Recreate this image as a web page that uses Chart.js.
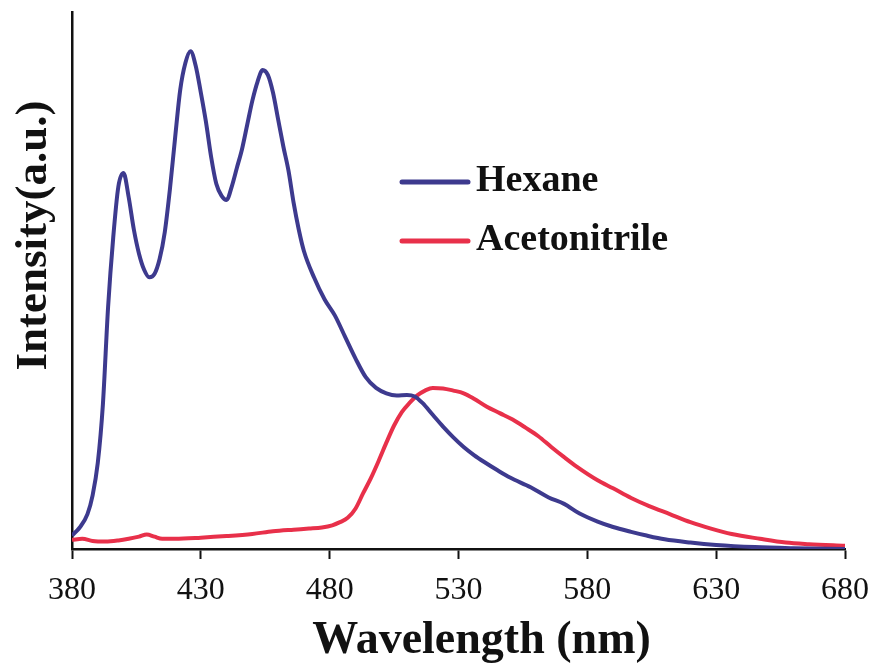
<!DOCTYPE html>
<html>
<head>
<meta charset="utf-8">
<script src="https://cdn.jsdelivr.net/npm/chart.js@4.4.1/dist/chart.umd.min.js"></script>
<style>
    body { margin: 0; background: #fff; }
    #wrap { width: 876px; height: 669px; }
</style>
</head>
<body>
<div id="wrap"><canvas id="spectra" width="876" height="669"></canvas></div>
<script>
// Emission spectra (intensity in arbitrary units, 0-100)
const hexaneNm = [380, 383, 386, 388, 390, 392, 394, 396, 398, 400, 402, 404, 406, 408, 410, 412, 414, 416, 418, 420,
    422, 424, 426, 428, 430, 432, 434, 436, 438, 440, 442, 444, 446, 448, 450, 452, 454, 456, 458, 460,
    462, 464, 466, 468, 470, 474, 478, 482, 486, 490, 494, 498, 502, 506, 510, 513, 516, 520, 524, 528,
    532, 536, 540, 545, 550, 558, 565, 571, 577, 584, 590, 597, 603, 610, 620, 630, 645, 660, 680];
const hexaneVals = [2.5, 4, 6.5, 10, 16, 27, 45, 58, 67.5, 70, 65.5, 59.5, 55, 52, 50.6, 51.2, 54, 59, 67, 76.5,
    85.5, 90.5, 92.7, 90, 85, 79.5, 73, 68, 65.8, 65, 67.5, 71, 74.5, 79, 83.5, 87, 89.2, 88.3, 85, 80,
    75, 70.5, 64.5, 59.5, 55.5, 50.5, 46.5, 43.5, 39.5, 35.5, 32, 30, 29, 28.6, 28.7, 28.4, 27.2, 25, 22.8, 20.8,
    19, 17.5, 16.2, 14.7, 13.3, 11.5, 9.6, 8.4, 6.6, 5.1, 4.1, 3.2, 2.5, 1.8, 1.2, 0.75, 0.35, 0.15, 0];

const acnNm = [380, 384, 388, 393, 398, 402, 406, 409, 412, 415, 420, 430, 440, 450, 458, 466, 472, 477, 481, 484,
    487, 490, 493, 496, 499, 502, 505, 508, 511, 514, 517, 520, 524, 528, 532, 536, 541, 546, 551, 556,
    561, 566, 571, 576, 584, 590, 597, 604, 612, 620, 628, 636, 647, 657, 666, 680];
const acnVals = [1.7, 1.9, 1.5, 1.4, 1.6, 1.9, 2.3, 2.7, 2.3, 1.9, 1.9, 2.1, 2.4, 2.8, 3.3, 3.6, 3.8, 4.0, 4.4, 5.0,
    5.8, 7.5, 10.4, 13.2, 16.4, 19.8, 23, 25.5, 27.2, 28.6, 29.5, 30, 29.9, 29.5, 29, 28, 26.5, 25.3, 24.1, 22.6,
    21, 19, 17.1, 15.3, 12.8, 11.3, 9.5, 8.0, 6.5, 5.0, 3.8, 2.8, 1.9, 1.2, 0.9, 0.6];

const seriesNames = ['Hexane', 'Acetonitrile'];
const seriesColors = ['#3d3a8e', '#e8304a'];
const xTicks = [380, 430, 480, 530, 580, 630, 680];

const serif = "'Liberation Serif', 'Times New Roman', serif";

function toPoints(xs, ys) {
    return xs.map((x, i) => ({ x: x, y: ys[i] }));
}

// Legend sits inside the plot, drawn by hand like the original figure
const insideLegend = {
    id: 'insideLegend',
    afterDraw(chart) {
        const ctx = chart.ctx;
        const rows = [182, 241];
        ctx.save();
        chart.data.datasets.forEach((ds, i) => {
            const y = rows[i];
            ctx.strokeStyle = ds.borderColor;
            ctx.lineWidth = 5;
            ctx.lineCap = 'round';
            ctx.beginPath();
            ctx.moveTo(402, y);
            ctx.lineTo(468, y);
            ctx.stroke();
            ctx.fillStyle = '#111';
            ctx.font = 'bold 38px ' + serif;
            ctx.textBaseline = 'alphabetic';
            ctx.fillText(ds.label, 476, y + 9);
        });
        ctx.restore();
    }
};

const ctx = document.getElementById('spectra').getContext('2d');
new Chart(ctx, {
    type: 'line',
    data: {
        datasets: [
            {
                label: seriesNames[0],
                data: toPoints(hexaneNm, hexaneVals),
                borderColor: seriesColors[0],
                borderWidth: 4,
                pointRadius: 0,
                cubicInterpolationMode: 'monotone'
            },
            {
                label: seriesNames[1],
                data: toPoints(acnNm, acnVals),
                borderColor: seriesColors[1],
                borderWidth: 4,
                pointRadius: 0,
                cubicInterpolationMode: 'monotone'
            }
        ]
    },
    options: {
        responsive: false,
        animation: false,
        layout: { padding: { top: 12, right: 31, left: 0, bottom: 0 } },
        plugins: {
            legend: { display: false },
            tooltip: { enabled: false }
        },
        scales: {
            x: {
                type: 'linear',
                min: 380,
                max: 680,
                afterBuildTicks: scale => {
                    scale.ticks = xTicks.map(v => ({ value: v }));
                },
                afterFit: scale => {
                    scale.height = 120;
                    scale.paddingLeft = 0;
                    scale.paddingRight = 0;
                },
                ticks: {
                    color: '#111',
                    padding: 12,
                    font: { family: serif, size: 32 }
                },
                grid: {
                    drawOnChartArea: false,
                    drawTicks: true,
                    tickLength: 10,
                    tickWidth: 2,
                    tickColor: '#111'
                },
                border: { display: true, color: '#111', width: 2.5 },
                title: {
                    display: true,
                    text: '    Wavelength (nm)',
                    color: '#111',
                    padding: { top: 4, bottom: 0 },
                    font: { family: serif, size: 46, weight: 'bold' }
                }
            },
            y: {
                min: 0,
                max: 100,
                afterFit: scale => { scale.width = 72; },
                ticks: { display: false },
                grid: { display: false },
                border: { display: true, color: '#111', width: 2.5 },
                title: {
                    display: true,
                    text: '        Intensity(a.u.)',
                    color: '#111',
                    padding: { top: 7, bottom: 0 },
                    font: { family: serif, size: 45, weight: 'bold' }
                }
            }
        }
    },
    plugins: [insideLegend]
});
</script>
</body>
</html>
